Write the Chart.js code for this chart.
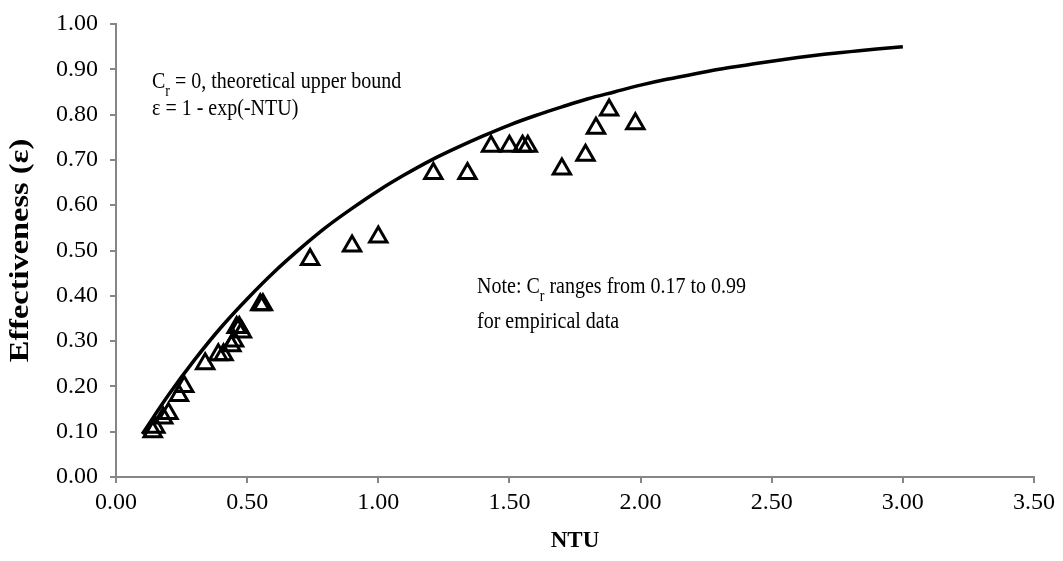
<!DOCTYPE html>
<html>
<head>
<meta charset="UTF-8">
<script src="https://cdn.jsdelivr.net/npm/chart.js@4.4.1/dist/chart.umd.min.js"></script>
<style>
body{margin:0;background:#fff;}
#c{display:block;}
</style>
</head>
<body>
<canvas id="c" width="1063" height="561"></canvas>
<script>
// theoretical curve (Cr = 0)
const ntuCurve = [0.1,0.2,0.3,0.4,0.5,0.6,0.7,0.8,0.9,1.0,1.1,1.2,1.3,1.4,1.5,1.6,1.7,1.8,1.9,2.0,2.1,2.2,2.3,2.4,2.5,2.6,2.7,2.8,2.9,3.0];
const effCurve = [0.095,0.181,0.259,0.330,0.393,0.451,0.503,0.551,0.593,0.632,0.667,0.699,0.727,0.753,0.777,0.798,0.817,0.835,0.850,0.865,0.878,0.889,0.900,0.909,0.918,0.926,0.933,0.939,0.945,0.950];

// empirical points
const ntuData = [0.14,0.15,0.18,0.20,0.24,0.26,0.34,0.39,0.41,0.44,0.45,0.46,0.47,0.48,0.55,0.56,0.74,0.90,1.00,1.21,1.34,1.43,1.50,1.55,1.57,1.70,1.79,1.83,1.88,1.98];
const effData = [0.10,0.11,0.13,0.14,0.18,0.20,0.25,0.27,0.27,0.29,0.30,0.33,0.33,0.32,0.38,0.38,0.48,0.51,0.53,0.67,0.67,0.73,0.73,0.73,0.73,0.68,0.71,0.77,0.81,0.78];

const xTicks = [0,0.5,1,1.5,2,2.5,3,3.5];
const yTicks = [0,0.1,0.2,0.3,0.4,0.5,0.6,0.7,0.8,0.9,1.0];

const SERIF = '"Liberation Serif","Times New Roman",serif';
const AXIS = '#868686';

// text notes, runs with subscripts (text is a bit stretched up in the original)
const notes = [
  {x:152, y:88, runs:[['C',0],['r',1],[' = 0, theoretical upper bound',0]]},
  {x:152, y:115, runs:[['\u03b5 = 1 - exp(-NTU)',0]]},
  {x:477, y:293, runs:[['Note: C',0],['r',1],[' ranges from 0.17 to 0.99',0]]},
  {x:477, y:328, runs:[['for empirical data',0]]}
];

const notePlugin = {
  id:'notes',
  afterDraw(chart){
    const ctx = chart.ctx;
    ctx.save();
    ctx.fillStyle = '#000';
    ctx.textBaseline = 'alphabetic';
    ctx.textAlign = 'left';
    notes.forEach(n=>{
      let x = n.x;
      n.runs.forEach(([t,sub])=>{
        ctx.font = (sub ? '14px ' : '20px ') + SERIF;
        ctx.save();
        ctx.translate(x, n.y + (sub ? 8 : 0));
        ctx.scale(1, 1.2);
        ctx.fillText(t, 0, 0);
        ctx.restore();
        x += ctx.measureText(t).width;
      });
    });

    // y axis title
    const a = chart.chartArea;
    ctx.save();
    ctx.translate(21, (a.top + a.bottom) / 2);
    ctx.rotate(-Math.PI / 2);
    ctx.scale(1.2, 1);
    ctx.font = 'bold 27px ' + SERIF;
    ctx.textAlign = 'center';
    ctx.textBaseline = 'middle';
    ctx.fillText('Effectiveness (\u03b5)', 0, 0);
    ctx.restore();
    ctx.restore();
  }
};

const ctx = document.getElementById('c').getContext('2d');
new Chart(ctx,{
  type:'scatter',
  data:{
    datasets:[
      {
        type:'line',
        label:'Cr = 0',
        data:ntuCurve.map((x,i)=>({x:x,y:effCurve[i]})),
        borderColor:'#000',
        borderWidth:3.5,
        pointRadius:0,
        fill:false,
        cubicInterpolationMode:'monotone',
        order:0
      },
      {
        label:'empirical',
        data:ntuData.map((x,i)=>({x:x,y:effData[i]})),
        pointStyle:'triangle',
        pointRadius:10,
        pointBorderWidth:3,
        borderColor:'#000',
        backgroundColor:'rgba(0,0,0,0)',
        order:1
      }
    ]
  },
  options:{
    responsive:false,
    animation:false,
    layout:{padding:{left:0,top:23,right:27,bottom:0}},
    plugins:{legend:{display:false},tooltip:{enabled:false}},
    scales:{
      x:{
        type:'linear',min:0,max:3.5,
        afterBuildTicks:s=>{s.ticks = xTicks.map(v=>({value:v}));},
        afterFit:s=>{s.height = 84;},
        ticks:{color:'#000',font:{family:SERIF,size:24,lineHeight:1},padding:8,maxRotation:0,autoSkip:false,callback:v=>v.toFixed(2)},
        grid:{drawOnChartArea:false,tickLength:6,color:AXIS,lineWidth:2},
        border:{color:AXIS,width:2},
        title:{display:true,text:'NTU',color:'#000',font:{family:SERIF,size:23,weight:'bold'},padding:{top:0,bottom:6}}
      },
      y:{
        type:'linear',min:0,max:1,
        afterBuildTicks:s=>{s.ticks = yTicks.map(v=>({value:v}));},
        afterFit:s=>{s.width = 116;},
        ticks:{color:'#000',font:{family:SERIF,size:24,lineHeight:1},padding:12,autoSkip:false,callback:v=>v.toFixed(2)},
        grid:{drawOnChartArea:false,tickLength:6,color:AXIS,lineWidth:2},
        border:{color:AXIS,width:2},
        title:{display:false}
      }
    }
  },
  plugins:[notePlugin]
});
</script>
</body>
</html>
